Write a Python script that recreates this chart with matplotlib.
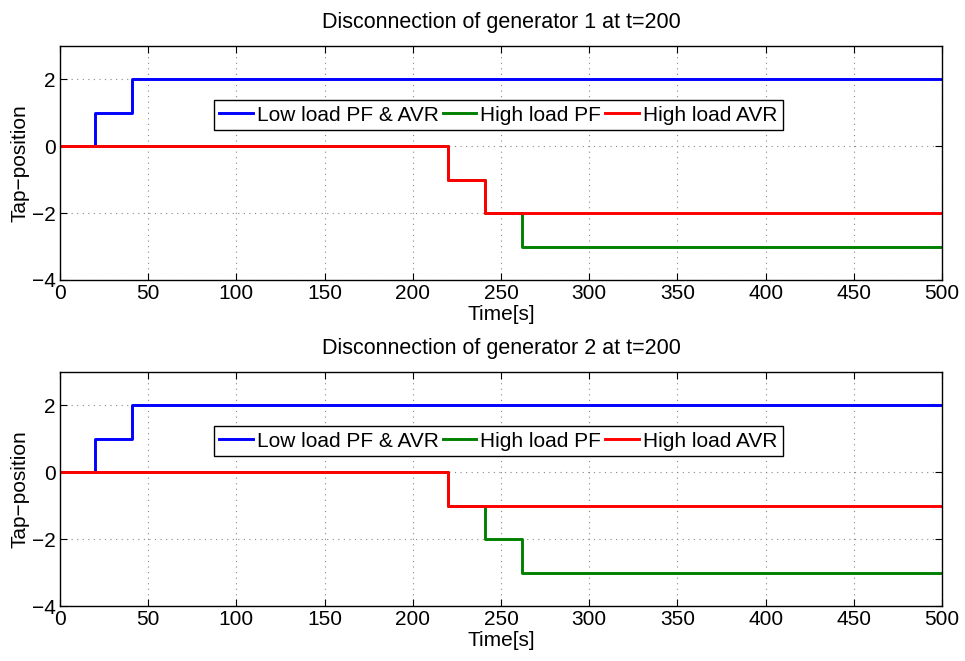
import numpy as np
import matplotlib
matplotlib.use('Agg')
import matplotlib.pyplot as plt

plt.rcParams['font.family'] = ['Liberation Sans', 'DejaVu Sans']

# step data: time of change -> tap position
t_low = [0, 20, 41, 500]
tap_low = [0, 1, 2, 2]

t_pf = [0, 220, 241, 262, 500]
tap_pf = [0, -1, -2, -3, -3]

t_avr_g1 = [0, 220, 241, 500]
tap_avr_g1 = [0, -1, -2, -2]
t_avr_g2 = [0, 220, 500]
tap_avr_g2 = [0, -1, -1]

titles = ['Disconnection of generator 1 at t=200',
          'Disconnection of generator 2 at t=200']
labels = ['Low load PF & AVR', 'High load PF', 'High load AVR']
xticks = np.arange(0, 501, 50)
yticks = [-4, -2, 0, 2]

fig = plt.figure(figsize=(9.65, 6.61), dpi=100)
ax1 = fig.add_axes([0.0622, 0.5764, 0.914, 0.354])
ax2 = fig.add_axes([0.0622, 0.0832, 0.914, 0.354])

series = [
    ((t_low, tap_low), (t_pf, tap_pf), (t_avr_g1, tap_avr_g1)),
    ((t_low, tap_low), (t_pf, tap_pf), (t_avr_g2, tap_avr_g2)),
]
colors = ['#0000ff', '#008000', '#ff0000']

for ax, title, data in zip((ax1, ax2), titles, series):
    for (t, v), c, lab in zip(data, colors, labels):
        ax.plot(t, v, drawstyle='steps-post', color=c, lw=2.1, label=lab)
    ax.set_xlim(0, 500)
    ax.set_ylim(-4, 3)
    ax.set_xticks(xticks)
    ax.set_yticks(yticks)
    ax.set_yticklabels(['\u22124', '\u22122', '0', '2'])
    ax.grid(True, linestyle=(0, (1, 4)), color='#888888', lw=0.8)
    ax.tick_params(direction='in', top=True, right=True, labelsize=15,
                   length=5, pad=3)
    for s in ax.spines.values():
        s.set_linewidth(1.0)
    ax.set_title(title, fontsize=15.5, pad=13)
    ax.set_xlabel('Time[s]', fontsize=15, labelpad=1)
    ax.set_ylabel('Tap\u2212position', fontsize=15, labelpad=2)
    leg = ax.legend(loc='center', bbox_to_anchor=(0.497, 0.705), ncol=3,
                    fontsize=15, handlelength=1.6, handletextpad=0.2,
                    columnspacing=0.2, borderpad=0.25, fancybox=False,
                    framealpha=1, edgecolor='black')
    leg.get_frame().set_linewidth(1.0)

fig.savefig('out.png', dpi=100)
